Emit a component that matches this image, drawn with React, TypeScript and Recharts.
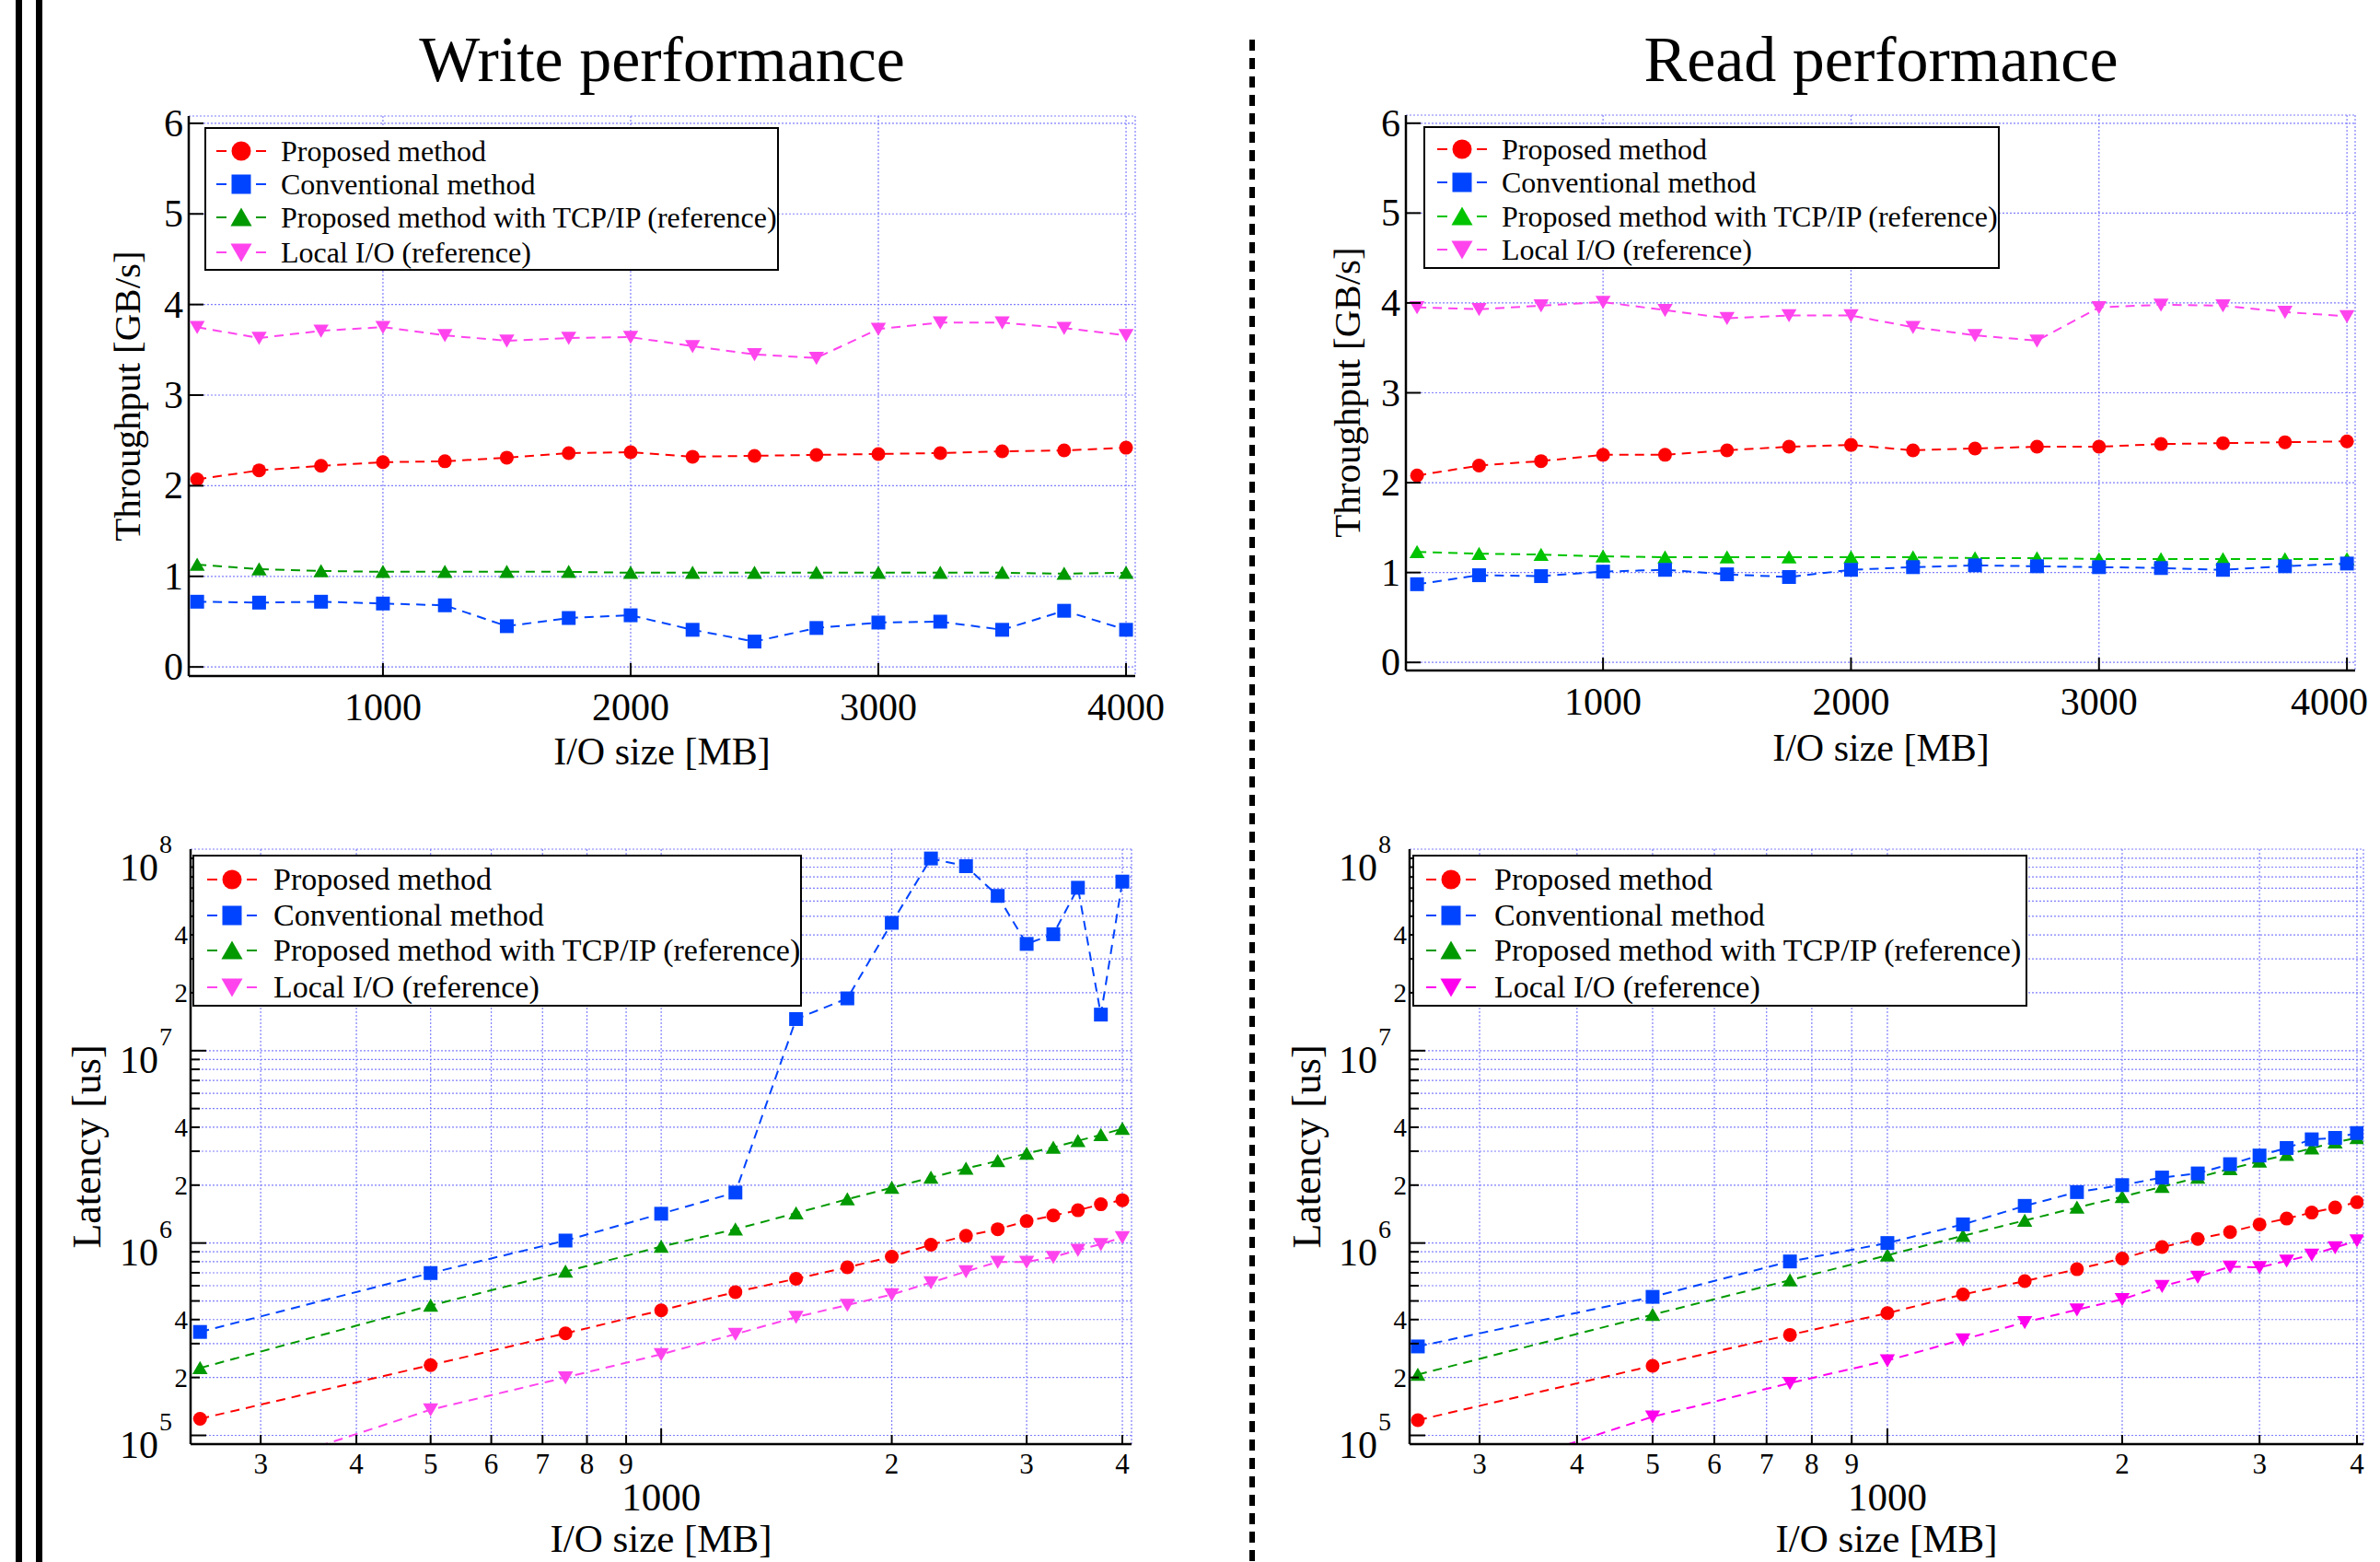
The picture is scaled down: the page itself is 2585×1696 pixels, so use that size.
import React from 'react';
import { LineChart, Line, XAxis, YAxis, CartesianGrid } from 'recharts';

const FONT = '"Liberation Serif", "Times New Roman", serif';

// I/O sizes in MB
const ioSizes = [250, 500, 750, 1000, 1250, 1500, 1750, 2000, 2250, 2500, 2750, 3000, 3250, 3500, 3750, 4000];

// write throughput [GB/s]
const writeTpProposed = [2.07, 2.17, 2.22, 2.26, 2.27, 2.31, 2.36, 2.37, 2.32, 2.33, 2.34, 2.35, 2.36, 2.38, 2.39, 2.42];
const writeTpConventional = [0.72, 0.71, 0.72, 0.70, 0.68, 0.45, 0.54, 0.57, 0.41, 0.28, 0.43, 0.49, 0.50, 0.41, 0.62, 0.41];
const writeTpTcp = [1.13, 1.08, 1.06, 1.05, 1.05, 1.05, 1.05, 1.04, 1.04, 1.04, 1.04, 1.04, 1.04, 1.04, 1.03, 1.04];
const writeTpLocal = [3.75, 3.63, 3.71, 3.75, 3.66, 3.60, 3.63, 3.64, 3.54, 3.45, 3.41, 3.73, 3.80, 3.80, 3.74, 3.66];

// read throughput [GB/s]
const readTpProposed = [2.08, 2.19, 2.24, 2.31, 2.31, 2.36, 2.40, 2.42, 2.36, 2.38, 2.40, 2.40, 2.43, 2.44, 2.45, 2.46];
const readTpConventional = [0.87, 0.97, 0.96, 1.01, 1.03, 0.98, 0.95, 1.03, 1.06, 1.08, 1.07, 1.06, 1.05, 1.03, 1.07, 1.10];
const readTpTcp = [1.23, 1.21, 1.20, 1.18, 1.17, 1.17, 1.17, 1.17, 1.17, 1.16, 1.16, 1.15, 1.15, 1.15, 1.15, 1.15];
const readTpLocal = [3.95, 3.93, 3.97, 4.01, 3.92, 3.83, 3.86, 3.86, 3.73, 3.64, 3.58, 3.95, 3.98, 3.97, 3.90, 3.85];

// write latency [us]
const writeLatProposed = [1.22e5, 2.32e5, 3.39e5, 4.47e5, 5.56e5, 6.52e5, 7.48e5, 8.49e5, 9.8e5, 1.09e6, 1.18e6, 1.3e6, 1.39e6, 1.48e6, 1.59e6, 1.67e6];
const writeLatConventional = [3.45e5, 6.98e5, 1.03e6, 1.42e6, 1.83e6, 1.46e7, 1.87e7, 4.62e7, 9.98e7, 9.1e7, 6.38e7, 3.59e7, 4.03e7, 7.03e7, 1.54e7, 7.57e7];
const writeLatTcp = [2.24e5, 4.73e5, 7.11e5, 9.58e5, 1.18e6, 1.43e6, 1.69e6, 1.94e6, 2.19e6, 2.44e6, 2.67e6, 2.92e6, 3.14e6, 3.4e6, 3.65e6, 3.93e6];
const writeLatLocal = [5.5e4, 1.36e5, 2.0e5, 2.64e5, 3.36e5, 4.12e5, 4.76e5, 5.4e5, 6.23e5, 7.11e5, 7.98e5, 7.98e5, 8.45e5, 9.21e5, 9.86e5, 1.07e6];

// read latency [us]
const readLatProposed = [1.2e5, 2.3e5, 3.33e5, 4.32e5, 5.4e5, 6.34e5, 7.31e5, 8.3e5, 9.53e5, 1.05e6, 1.14e6, 1.25e6, 1.34e6, 1.44e6, 1.53e6, 1.63e6];
const readLatConventional = [2.9e5, 5.25e5, 8.02e5, 1.0e6, 1.25e6, 1.56e6, 1.84e6, 2.0e6, 2.19e6, 2.3e6, 2.57e6, 2.85e6, 3.12e6, 3.46e6, 3.52e6, 3.73e6];
const readLatTcp = [2.07e5, 4.24e5, 6.41e5, 8.63e5, 1.09e6, 1.31e6, 1.53e6, 1.74e6, 1.96e6, 2.19e6, 2.43e6, 2.66e6, 2.88e6, 3.11e6, 3.34e6, 3.52e6];
const readLatLocal = [5.0e4, 1.25e5, 1.87e5, 2.45e5, 3.15e5, 3.87e5, 4.5e5, 5.1e5, 5.96e5, 6.67e5, 7.53e5, 7.48e5, 8.07e5, 8.69e5, 9.47e5, 1.03e6];

const seriesNames = ['Proposed method', 'Conventional method', 'Proposed method with TCP/IP (reference)', 'Local I/O (reference)'];
const seriesKeys = ['proposed', 'conventional', 'tcp', 'local'];
const seriesShapes = ['circle', 'square', 'up', 'down'];

const throughputTicks = [0, 1, 2, 3, 4, 5, 6];
const linearSizeTicks = [1000, 2000, 3000, 4000];
const logSizeTicks = [300, 400, 500, 600, 700, 800, 900, 1000, 2000, 3000, 4000];
const latencyTicks: number[] = [];
for (let e = 5; e <= 7; e++) for (let m = 1; m <= 9; m++) latencyTicks.push(m * Math.pow(10, e));
latencyTicks.push(1e8);

const buildRows = (p: number[], c: number[], t: number[], l: number[]) =>
  ioSizes.map((size, i) => ({ size, proposed: p[i], conventional: c[i], tcp: t[i], local: l[i] }));

const GRID = '#7f7fff';

const Marker = ({ shape, cx, cy, size, color }: any) => {
  const h = size / 2;
  if (shape === 'circle') return <circle cx={cx} cy={cy} r={h} fill={color} />;
  if (shape === 'square') return <rect x={cx - h} y={cy - h} width={size} height={size} fill={color} />;
  if (shape === 'up')
    return <polygon points={`${cx},${cy - h} ${cx + h * 1.1},${cy + h * 0.9} ${cx - h * 1.1},${cy + h * 0.9}`} fill={color} />;
  return <polygon points={`${cx - h * 1.1},${cy - h * 0.9} ${cx + h * 1.1},${cy - h * 0.9} ${cx},${cy + h}`} fill={color} />;
};

// maxRight keeps the last label inside the picture
const makeLinXTick = (maxRight: number) => ({ x, y, payload }: any) => {
  const half = String(payload.value).length * 10.5;
  const tx = Math.min(x, maxRight - half);
  return (
    <g>
      <line x1={x} x2={x} y1={y} y2={y - 14} stroke="#000" strokeWidth={2} />
      <text x={tx} y={y + 48} textAnchor="middle" fontSize={42} fontFamily={FONT} fill="#000">{payload.value}</text>
    </g>
  );
};

const LinYTick = ({ x, y, payload }: any) => (
  <g>
    <line x1={x} x2={x + 16} y1={y} y2={y} stroke="#000" strokeWidth={2} />
    <text x={x - 6} y={y + 14} textAnchor="end" fontSize={42} fontFamily={FONT} fill="#000">{payload.value}</text>
  </g>
);

const LogXTick = ({ x, y, payload }: any) => {
  const v = payload.value;
  const big = v === 1000;
  const e = Math.floor(Math.log10(v) + 1e-9);
  const label = big ? '1000' : String(Math.round(v / Math.pow(10, e)));
  return (
    <g>
      <line x1={x} x2={x} y1={y} y2={y - (big ? 17 : 10)} stroke="#000" strokeWidth={2} />
      <text x={x} y={big ? y + 72 : y + 32} textAnchor="middle" fontSize={big ? 43 : 31} fontFamily={FONT} fill="#000">{label}</text>
    </g>
  );
};

const LogYTick = ({ x, y, payload }: any) => {
  const v = payload.value;
  const e = Math.floor(Math.log10(v) + 1e-9);
  const m = Math.round(v / Math.pow(10, e));
  return (
    <g>
      <line x1={x} x2={x + (m === 1 ? 17 : 10)} y1={y} y2={y} stroke="#000" strokeWidth={2} />
      {m === 1 && <text x={x - 35} y={y + 24} textAnchor="end" fontSize={42} fontFamily={FONT} fill="#000">10</text>}
      {m === 1 && <text x={x - 34} y={y - 6} textAnchor="start" fontSize={28} fontFamily={FONT} fill="#000">{e}</text>}
      {(m === 2 || m === 4) && <text x={x - 3} y={y + 10} textAnchor="end" fontSize={29} fontFamily={FONT} fill="#000">{m}</text>}
    </g>
  );
};

const Y_W = 60;
const X_H = 60;

const Panel = ({ box, plot, data, log, xDomain, yDomain, colors }: any) => {
  const margin = {
    left: plot.left - box.left - Y_W,
    top: plot.top - box.top,
    right: box.left + box.width - plot.right,
    bottom: box.top + box.height - plot.bottom - X_H,
  };
  const xScale = log ? 'log' : 'linear';
  const yScale = log ? 'log' : 'linear';
  const order = [2, 3, 0, 1];
  return (
    <div style={{ position: 'absolute', left: box.left, top: box.top }}>
      <LineChart width={box.width} height={box.height} data={data} margin={margin}>
        <CartesianGrid stroke={GRID} strokeDasharray="2 2" strokeWidth={1.2} />
        <XAxis
          dataKey="size" type="number" scale={xScale} domain={xDomain} allowDataOverflow
          ticks={log ? logSizeTicks : linearSizeTicks} interval={0} height={X_H}
          tickSize={0} tickMargin={0} tickLine={false}
          axisLine={{ stroke: '#000', strokeWidth: 2.5 }}
          tick={log ? LogXTick : makeLinXTick(box.width - 13)}
        />
        <XAxis xAxisId="top" orientation="top" dataKey="size" type="number" scale={xScale} domain={xDomain}
          allowDataOverflow height={0} tick={false} tickLine={false} axisLine={{ stroke: '#000', strokeWidth: 2.5 }} />
        <YAxis
          type="number" scale={yScale} domain={yDomain} allowDataOverflow
          ticks={log ? latencyTicks : throughputTicks} interval={0} width={Y_W}
          tickSize={0} tickMargin={0} tickLine={false}
          axisLine={{ stroke: '#000', strokeWidth: 2.5 }}
          tick={log ? LogYTick : LinYTick}
        />
        <YAxis yAxisId="right" orientation="right" type="number" scale={yScale} domain={yDomain}
          allowDataOverflow width={0} tick={false} tickLine={false} axisLine={{ stroke: '#000', strokeWidth: 2.5 }} />
        {order.map((i) => (
          <Line
            key={seriesKeys[i]}
            type="linear"
            dataKey={seriesKeys[i]}
            stroke={colors[i]}
            strokeWidth={2}
            strokeDasharray="10 7"
            isAnimationActive={false}
            activeDot={false}
            dot={(p: any) =>
              p.cx == null || p.cy == null ? (
                <g key={`d${i}-${p.index}`} />
              ) : (
                <Marker key={`d${i}-${p.index}`} shape={seriesShapes[i]} cx={p.cx} cy={p.cy} size={15} color={colors[i]} />
              )
            }
          />
        ))}
      </LineChart>
    </div>
  );
};

const LegendBox = ({ left, top, width, height, rows, iconX, textX, fontSize, colors }: any) => (
  <div
    style={{
      position: 'absolute', left, top, width, height, boxSizing: 'border-box',
      border: '2px solid #000', background: '#fff',
    }}
  >
    {seriesNames.map((name, i) => {
      const cy = rows[i] - top;
      return (
        <React.Fragment key={name}>
          <svg style={{ position: 'absolute', left: iconX - left - 32, top: cy - 14 }} width={64} height={28}>
            <line x1={5} x2={16} y1={14} y2={14} stroke={colors[i]} strokeWidth={2} />
            <line x1={48} x2={59} y1={14} y2={14} stroke={colors[i]} strokeWidth={2} />
            <Marker shape={seriesShapes[i]} cx={32} cy={14} size={21} color={colors[i]} />
          </svg>
          <div
            style={{
              position: 'absolute', left: textX - left, top: cy, transform: 'translateY(-50%)',
              fontFamily: FONT, fontSize, lineHeight: 1, whiteSpace: 'nowrap', color: '#000',
            }}
          >
            {name}
          </div>
        </React.Fragment>
      );
    })}
  </div>
);

const Label = ({ x, y, size, rotate, children }: any) => (
  <div
    style={{
      position: 'absolute', left: x, top: y,
      transform: `translate(-50%, -50%)${rotate ? ' rotate(-90deg)' : ''}`,
      fontFamily: FONT, fontSize: size, lineHeight: 1, whiteSpace: 'nowrap', color: '#000',
    }}
  >
    {children}
  </div>
);

const colorsWriteTp = ['#ff0000', '#0044ff', '#009900', '#ff44ee'];
const colorsReadTp = ['#ff0000', '#0044ff', '#00c400', '#ff44ee'];
const colorsWriteLat = ['#ff0000', '#0044ff', '#009900', '#ff44ee'];
const colorsReadLat = ['#ff0000', '#0044ff', '#009900', '#ff00ee'];

export default function App() {
  return (
    <div style={{ position: 'absolute', left: 0, top: 0, width: 2585, height: 1696, background: '#fff', overflow: 'hidden' }}>
      <div style={{ position: 'absolute', left: 17, top: 0, width: 7, height: 1696, background: '#000' }} />
      <div style={{ position: 'absolute', left: 39, top: 0, width: 7, height: 1696, background: '#000' }} />
      <div
        style={{
          position: 'absolute', left: 1357, top: 43, width: 6, height: 1653,
          background: 'repeating-linear-gradient(to bottom, #000 0px, #000 12px, transparent 12px, transparent 20px)',
        }}
      />

      <Panel
        box={{ left: 0, top: 0, width: 1300, height: 850 }}
        plot={{ left: 205, top: 126, right: 1233, bottom: 734 }}
        data={buildRows(writeTpProposed, writeTpConventional, writeTpTcp, writeTpLocal)}
        log={false} xDomain={[216, 4037]} yDomain={[-0.1, 6.08]} colors={colorsWriteTp}
      />
      <Panel
        box={{ left: 1300, top: 0, width: 1285, height: 850 }}
        plot={{ left: 1527, top: 125, right: 2558, bottom: 728 }}
        data={buildRows(readTpProposed, readTpConventional, readTpTcp, readTpLocal)}
        log={false} xDomain={[205, 4033]} yDomain={[-0.09, 6.09]} colors={colorsReadTp}
      />
      <Panel
        box={{ left: 0, top: 880, width: 1300, height: 816 }}
        plot={{ left: 207, top: 922, right: 1229, bottom: 1568 }}
        data={buildRows(writeLatProposed, writeLatConventional, writeLatTcp, writeLatLocal)}
        log xDomain={[243, 4112]} yDomain={[90070, 1.116e8]} colors={colorsWriteLat}
      />
      <Panel
        box={{ left: 1300, top: 880, width: 1285, height: 816 }}
        plot={{ left: 1531, top: 922, right: 2567, bottom: 1568 }}
        data={buildRows(readLatProposed, readLatConventional, readLatTcp, readLatLocal)}
        log xDomain={[244, 4077]} yDomain={[90070, 1.116e8]} colors={colorsReadLat}
      />

      <LegendBox left={222} top={138} width={624} height={156} rows={[162, 198, 234, 272]} iconX={260} textX={303} fontSize={32} colors={colorsWriteTp} />
      <LegendBox left={1546} top={137} width={626} height={155} rows={[160, 196, 233, 269]} iconX={1586} textX={1629} fontSize={32} colors={colorsReadTp} />
      <LegendBox left={209} top={928} width={662} height={165} rows={[953, 992, 1030, 1070]} iconX={250} textX={295} fontSize={34} colors={colorsWriteLat} />
      <LegendBox left={1534} top={928} width={668} height={165} rows={[953, 992, 1030, 1070]} iconX={1574} textX={1621} fontSize={34} colors={colorsReadLat} />

      <Label x={719} y={65} size={70}>Write performance</Label>
      <Label x={2043} y={65} size={70}>Read performance</Label>
      <Label x={719} y={816} size={42}>I/O size [MB]</Label>
      <Label x={2043} y={812} size={42}>I/O size [MB]</Label>
      <Label x={718} y={1670} size={43}>I/O size [MB]</Label>
      <Label x={2049} y={1670} size={43}>I/O size [MB]</Label>
      <Label x={138} y={430} size={41} rotate>Throughput [GB/s]</Label>
      <Label x={1463} y={426} size={41} rotate>Throughput [GB/s]</Label>
      <Label x={95} y={1245} size={44} rotate>Latency [us]</Label>
      <Label x={1420} y={1245} size={44} rotate>Latency [us]</Label>
    </div>
  );
}
